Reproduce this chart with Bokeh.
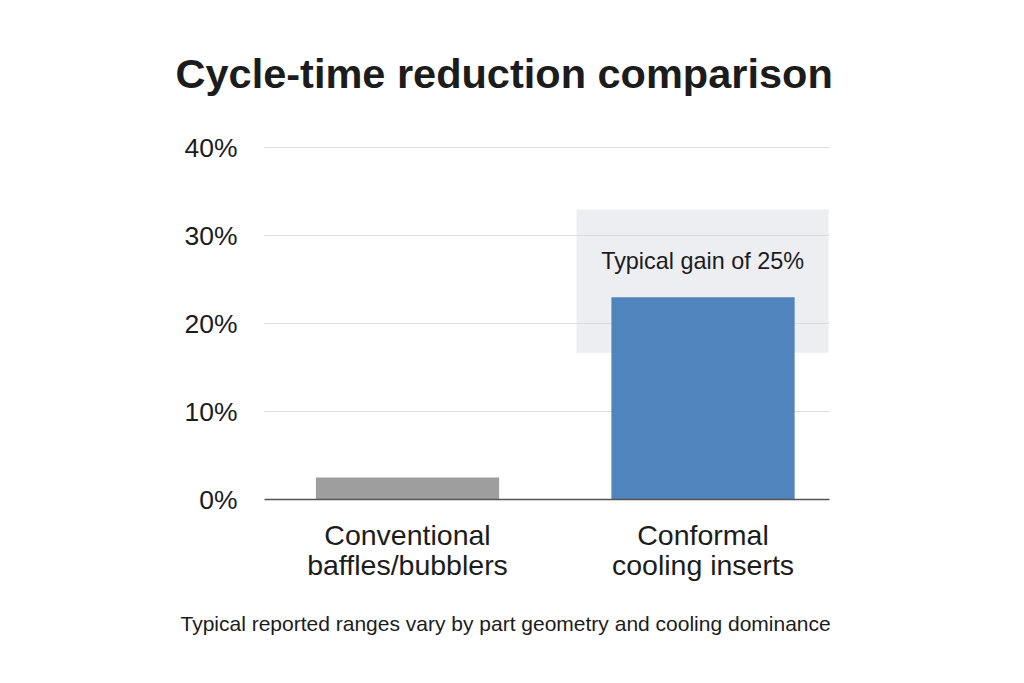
from bokeh.plotting import figure
from bokeh.models import Range1d, FixedTicker, BoxAnnotation, Label, ColumnDataSource, Title
from bokeh.embed import file_html
from bokeh.resources import INLINE

# ---- data ----
categories = ["Conventional\nbaffles/bubblers", "Conformal\ncooling inserts"]
positions = [0.5, 1.5]
values = [2.5, 23.0]
bar_colors = ["#9e9e9e", "#4f84bc"]
y_ticks = [0, 10, 20, 30, 40]
y_tick_labels = ["0%", "10%", "20%", "30%", "40%"]
band_low, band_high = 16.7, 33.0
band_left, band_right = 1.072, 1.925
band_text = "Typical gain of 25%"
band_text_y = 27.1
title_text = "Cycle-time reduction comparison"
note_text = "Typical reported ranges vary by part geometry and cooling dominance"

FONT = "Liberation Sans"
TXT = "#1c1c1c"

p = figure(width=1024, height=683, output_backend="svg", toolbar_location=None,
           x_range=Range1d(0.016, 1.928), y_range=Range1d(0, 40.5),
           min_border_left=264, min_border_right=195,
           min_border_top=143, min_border_bottom=184)
p.outline_line_color = None
p.background_fill_color = "white"
p.border_fill_color = "white"

# title
p.title = Title(text=title_text, align="left", offset=-89, standoff=93,
                text_font=FONT, text_font_size="41.5px", text_font_style="bold",
                text_color=TXT)
p.add_layout(Title(text=note_text, align="left", offset=-84, standoff=50,
                   text_font=FONT, text_font_size="21px", text_font_style="normal",
                   text_color=TXT), "below")

# band under grid
band = BoxAnnotation(left=band_left, right=band_right, bottom=band_low, top=band_high,
                     fill_color="#eceef2", fill_alpha=1.0, line_color=None, level="image")
p.add_layout(band)

src = ColumnDataSource(dict(x=positions, top=values, color=bar_colors))
p.vbar(x="x", top="top", bottom=0, width=0.62, color="color", line_color=None, source=src)

# grid
p.xgrid.visible = False
p.ygrid.ticker = FixedTicker(ticks=y_ticks)
p.ygrid.grid_line_color = "#dcdcdc"
p.ygrid.grid_line_width = 1

# y axis
p.yaxis.ticker = FixedTicker(ticks=y_ticks)
p.yaxis.major_label_overrides = {t: l for t, l in zip(y_ticks, y_tick_labels)}
p.yaxis.axis_line_color = None
p.yaxis.major_tick_line_color = None
p.yaxis.minor_tick_line_color = None
p.yaxis.major_label_standoff = 21
p.yaxis.major_label_text_font = FONT
p.yaxis.major_label_text_font_size = "26.5px"
p.yaxis.major_label_text_color = TXT

# x axis
p.xaxis.ticker = FixedTicker(ticks=positions)
p.xaxis.major_label_overrides = {pos: c for pos, c in zip(positions, categories)}
p.xaxis.axis_line_color = "#555555"
p.xaxis.axis_line_width = 1.5
p.xaxis.major_tick_line_color = None
p.xaxis.minor_tick_line_color = None
p.xaxis.major_label_standoff = 13
p.xaxis.major_label_text_font = FONT
p.xaxis.major_label_text_font_size = "28.5px"
p.xaxis.major_label_text_color = TXT
p.xaxis.major_label_text_line_height = 0.96

# band label
p.add_layout(Label(x=(band_left + band_right) / 2, y=band_text_y, text=band_text,
                   text_align="center", text_baseline="middle", text_font=FONT,
                   text_font_size="23.4px", text_color=TXT))

open("out.html", "w").write(file_html(p, INLINE))
